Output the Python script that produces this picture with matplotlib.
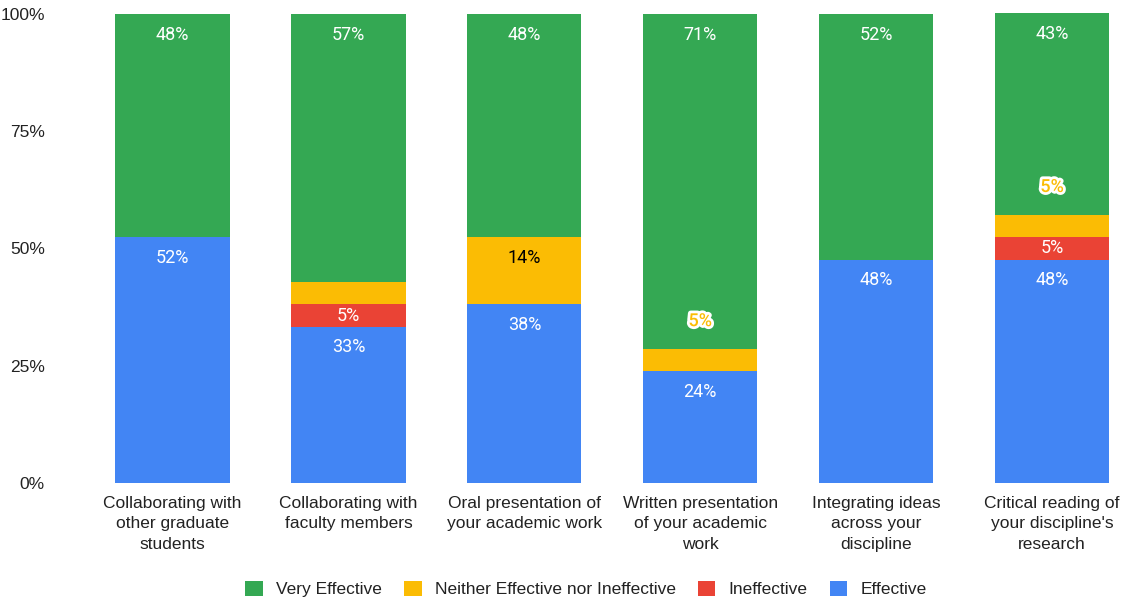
import matplotlib
matplotlib.use("Agg")
import matplotlib.pyplot as plt
from matplotlib.patches import Patch
import matplotlib.patheffects as pe

categories = ["Collaborating with\nother graduate\nstudents",
              "Collaborating with\nfaculty members",
              "Oral presentation of\nyour academic work",
              "Written presentation\nof your academic\nwork",
              "Integrating ideas\nacross your\ndiscipline",
              "Critical reading of\nyour discipline's\nresearch"]
effective = [52.4, 33.3, 38.1, 23.8, 47.6, 47.6]
ineffective = [0.0, 4.8, 0.0, 0.0, 0.0, 4.8]
neither = [0.0, 4.8, 14.3, 4.8, 0.0, 4.8]
very_effective = [47.6, 57.1, 47.6, 71.4, 52.4, 42.9]
yticks = [0, 25, 50, 75, 100]
ytick_labels = ["0%", "25%", "50%", "75%", "100%"]

C_BLUE = "#4285F4"
C_RED = "#EA4335"
C_YEL = "#FBBC04"
C_GRN = "#34A853"

FS = 12.5
LFS = 13

fig = plt.figure(figsize=(11.24, 6.02), dpi=100)
ax = fig.add_axes([60/1124, 1 - 483/602, 1064/1124, 471/602])

x = list(range(len(categories)))
w = 0.65
series = [("Effective", effective, C_BLUE, "white"),
          ("Ineffective", ineffective, C_RED, "white"),
          ("Neither Effective nor Ineffective", neither, C_YEL, "black"),
          ("Very Effective", very_effective, C_GRN, "white")]

bottoms = [0.0] * len(categories)
for name, vals, col, tcol in series:
    ax.bar(x, vals, w, bottom=bottoms, color=col, linewidth=0)
    for i, v in enumerate(vals):
        if v <= 0:
            bottoms[i] += v
            continue
        top = bottoms[i] + v
        lab = f"{round(v):d}%"
        if v >= 8:
            ax.text(i, top - 4.4, lab, ha="center", va="center", color=tcol,
                    fontsize=LFS, family="Roboto")
        elif name == "Ineffective":
            ax.text(i, bottoms[i] + v / 2, lab, ha="center", va="center",
                    color="white", fontsize=LFS, family="Roboto")
        elif name.startswith("Neither") and i != 1:
            ax.text(i, bottoms[i] + v / 2 + 8.3, lab, ha="center", va="center",
                    color=C_YEL, fontsize=LFS, family="Roboto", fontweight="medium",
                    path_effects=[pe.withStroke(linewidth=4, foreground="white")])
        bottoms[i] += v

ax.set_xlim(-0.6396, 5.409)
ax.set_ylim(0, 100.4)
ax.set_yticks(yticks)
ax.set_yticklabels(ytick_labels, family="Liberation Sans", fontsize=FS, color="#222222")
ax.set_xticks(x)
ax.set_xticklabels(categories, family="Liberation Sans", fontsize=FS, color="#222222",
                   linespacing=1.43, va="top")
ax.tick_params(length=0)
ax.tick_params(axis="y", pad=11)
ax.tick_params(axis="x", pad=9.5)
for s in ax.spines.values():
    s.set_visible(False)

handles = [Patch(facecolor=C_GRN, label="Very Effective"),
           Patch(facecolor=C_YEL, label="Neither Effective nor Ineffective"),
           Patch(facecolor=C_RED, label="Ineffective"),
           Patch(facecolor=C_BLUE, label="Effective")]
fig.legend(handles=handles, loc="center", bbox_to_anchor=(586/1124, 1 - 589/602), ncol=4,
           frameon=False, prop={"family": "Liberation Sans", "size": FS},
           handlelength=1.0, handleheight=1.0, handletextpad=0.75, columnspacing=1.3,
           labelcolor="#222222")

fig.savefig("out.png", dpi=100)
